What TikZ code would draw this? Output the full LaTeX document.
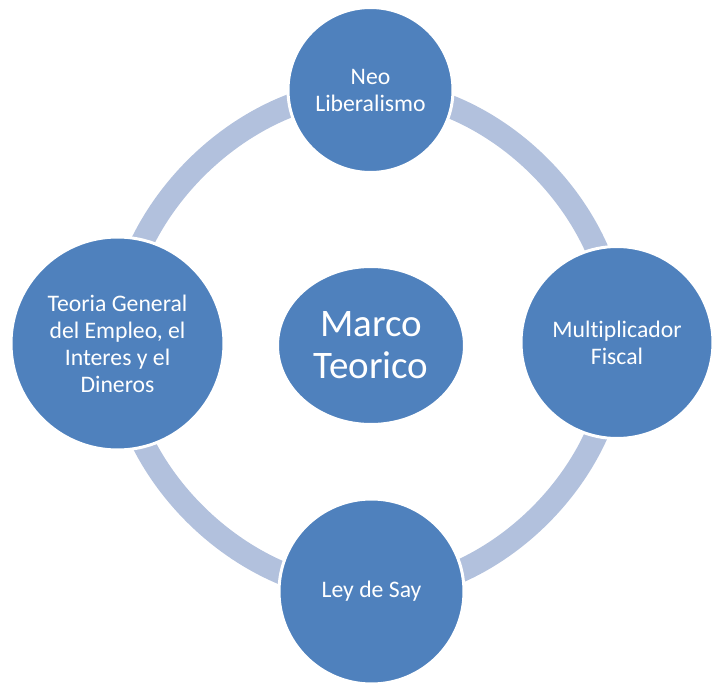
\documentclass[tikz,border=0pt]{standalone}
\usepackage{fontspec}
\setmainfont{Carlito}[Ligatures=NoCommon]
\usepackage{tikz}
\usetikzlibrary{shapes.geometric,backgrounds}
\definecolor{nodeblue}{HTML}{4F81BD}
\definecolor{ringblue}{HTML}{B2C1DD}
\tikzset{main node/.style={circle,fill=nodeblue,draw=white,line width=3pt,inner sep=0pt,align=center,text=white,font=\fontsize{23.7}{27}\selectfont},hub node/.style={ellipse,fill=nodeblue,draw=white,line width=3pt,inner sep=0pt,align=center,text=white,minimum width=187pt,minimum height=158pt,font=\fontsize{39}{42}\selectfont},edge/.style={draw=ringblue,line width=23pt,looseness=0.92}}

\begin{document}
\begin{tikzpicture}[x=1pt,y=1pt]
    \useasboundingbox (-370,-343) rectangle (342,342);
    \coordinate (hub) at (0,0);
    \node[hub node] (marco) at (1,-3.5) {Marco\\Teorico};
    \node[main node, minimum size=165pt] (neo) at (0.5,252) {Neo\\Liberalismo};
    \node[main node, minimum size=192pt] (multi) at (247,-0.5) {Multiplicador\\Fiscal};
    \node[main node, minimum size=185pt] (say) at (1.5,-249.5) {Ley de Say};
    \node[main node, minimum size=213pt] (teoria) at (-252.5,-1.5) {Teoria General\\del Empleo, el\\Interes y el\\Dineros};

    \begin{scope}[on background layer]
    \path[edge] (neo.center) edge [bend right=45] (teoria.center);
    \path[edge] (teoria.center) edge [bend right=45] (say.center);
    \path[edge] (say.center) edge [bend right=45] (multi.center);
    \path[edge] (multi.center) edge [bend right=45] (neo.center);
    \end{scope}
\end{tikzpicture}
\end{document}
